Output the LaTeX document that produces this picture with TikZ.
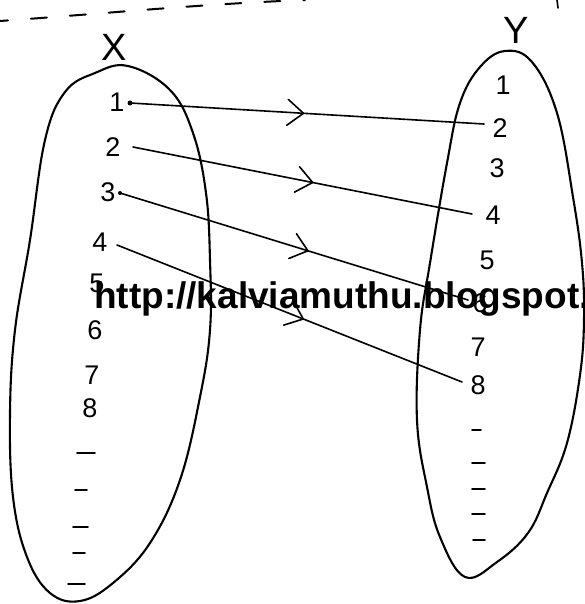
\documentclass[tikz,border=0pt]{standalone}
\usepackage{fontspec}
\setmainfont{Liberation Sans}
\usetikzlibrary{decorations.markings}
\begin{document}
\begin{tikzpicture}[x=1pt,y=-1pt,line cap=round,line join=round,
  ink/.style={line width=2.1pt,black},
  thin ink/.style={line width=1.6pt,black},
  digit/.style={font=\fontsize{27}{27}\selectfont,inner sep=0pt},
  setname/.style={font=\fontsize{38}{38}\selectfont,inner sep=0pt},
  mapline/.style={line width=1.6pt,postaction={decorate},
    decoration={markings,mark=at position #1 with {\draw[line width=1.6pt] (-16pt,13pt) -- (0pt,0pt) -- (-16pt,-13pt);}}},
  mapline/.default=0.5,
  dotmark/.style={circle,fill=black,inner sep=0pt,minimum size=5pt},
  watermark/.style={font=\fontsize{37}{37}\selectfont\bfseries,inner sep=0pt,anchor=base west}]
\useasboundingbox (0,0) rectangle (585,604);

% dashed line at the top
\draw[line width=2pt,dash pattern=on 16pt off 23pt,dash phase=8pt]
  (0,21) .. controls (100,14) and (200,4) .. (305,0);
\draw[line width=1.6pt] (557,0) -- (558,8);

% set X
\draw[ink] plot[smooth cycle,tension=0.65] coordinates {
  (128,66) (170,90) (193,133) (206,193) (210,260) (210,330) (200,397)
  (180,480) (150,543) (113,583) (80,601) (50,593) (27,557) (13,497)
  (10,413) (15,330) (30,240) (45,140) (65,92) (95,73)};
% set Y
\draw[ink] plot[smooth cycle,tension=0.65] coordinates {
  (505,51) (532,62) (557,113) (573,197) (582,263) (584,320) (580,375)
  (567,443) (547,493) (528,533) (497,562) (465,577) (440,537) (427,487)
  (417,420) (420,330) (430,263) (447,163) (460,103) (480,67)};

\node[setname] (X) at (114,47) {X};
\node[setname] (Y) at (516,30) {Y};

% elements of X
\node[digit] (x1) at (117,102) {1};
\node[digit] (x2) at (113,147) {2};
\node[digit] (x3) at (108,192) {3};
\node[digit] (x4) at (100,242) {4};
\node[digit] (x5) at (97,283) {5};
\node[digit] (x6) at (95,330) {6};
\node[digit] (x7) at (92,375) {7};
\node[digit] (x8) at (90,408) {8};
\foreach \a/\b/\y in {77/95/453,75/87/490,73/88/527,73/85/553,68/85/584}
  \draw[thin ink] (\a,\y) -- (\b,\y);

% elements of Y
\node[digit] (y1) at (503,85) {1};
\node[digit] (y2) at (500,128) {2};
\node[digit] (y3) at (497,168) {3};
\node[digit] (y4) at (493,215) {4};
\node[digit] (y5) at (487,260) {5};
\node[digit] (y6) at (480,303) {6};
\node[digit] (y7) at (478,347) {7};
\node[digit] (y8) at (478,385) {8};
\foreach \a/\b/\y in {472/481/430,472/485/463,472/485/489,472/485/514,473/485/540}
  \draw[thin ink] (\a,\y) -- (\b,\y);

% mapping arrows
\coordinate (s1) at (130,103);
\coordinate (t1) at (484,124);
\coordinate (s2) at (133,147);
\coordinate (t2) at (472,214);
\coordinate (s3) at (120,193);
\coordinate (t3) at (468,300);
\coordinate (s4) at (117,245);
\coordinate (t4) at (462,382);
\node[dotmark] (d1) at (s1) {};
\node[dotmark,minimum size=4pt] (d3) at (s3) {};
\draw[mapline=0.49] (s1) -- (t1);
\draw[mapline=0.53] (s2) -- (t2);
\draw[mapline=0.54] (s3) -- (t3);
\draw[mapline=0.54] (s4) -- (t4);

% watermark
\node[watermark] (wm) at (94,308) {http://kalviamuthu.blogspot.};
\end{tikzpicture}
\end{document}
